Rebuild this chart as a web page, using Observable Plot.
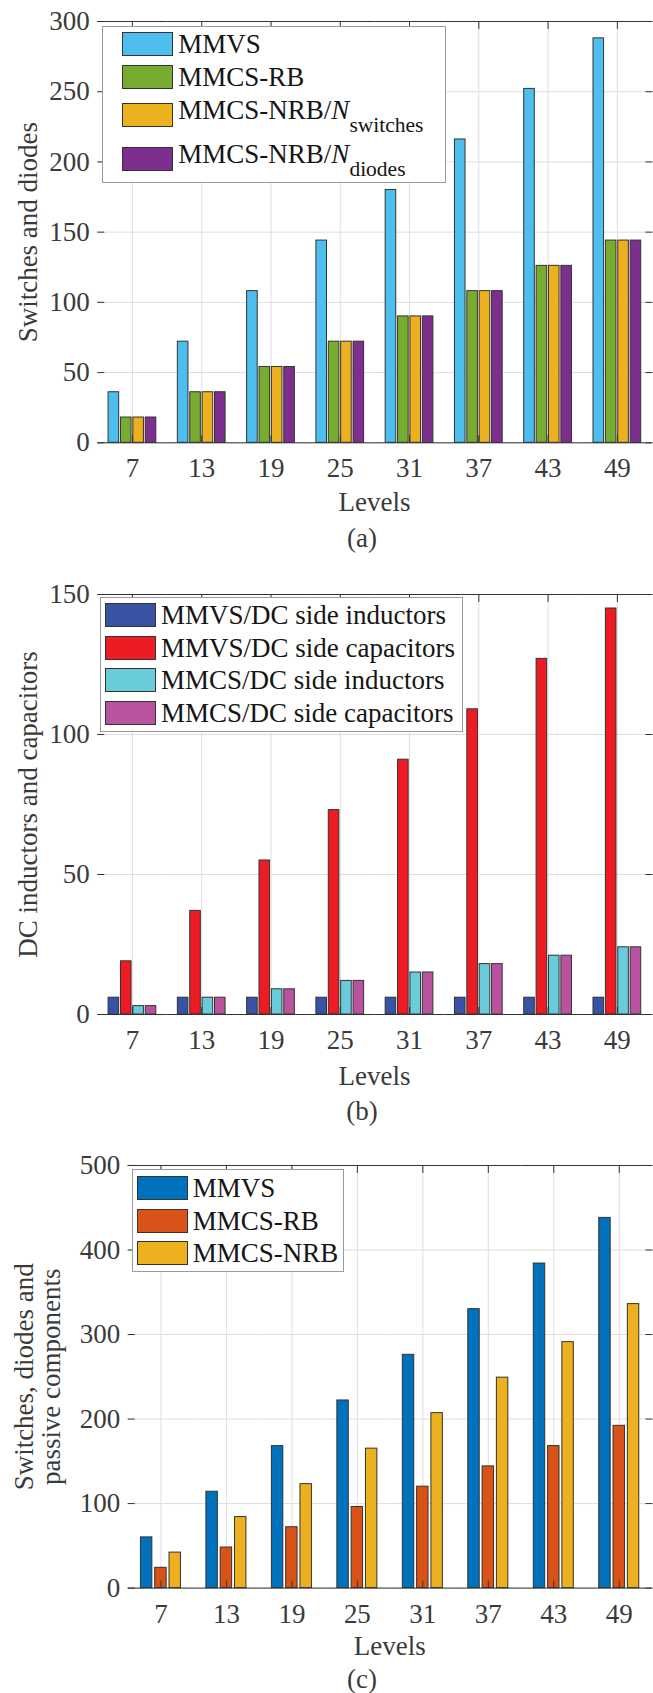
<!DOCTYPE html>
<html>
<head>
<meta charset="utf-8">
<script src="https://cdn.jsdelivr.net/npm/d3@7"></script>
<script src="https://cdn.jsdelivr.net/npm/@observablehq/plot@0.6"></script>
<style>
html, body { margin: 0; padding: 0; background: #fff; }
#page { position: relative; width: 653px; height: 1693px; overflow: hidden;
  font-family: "Liberation Serif", "Times New Roman", serif; color: #333; }
.chart { position: absolute; left: 0; }
.ctext { position: absolute; transform: translate(-50%, -50%); font-size: 27px; line-height: 1; white-space: nowrap; color: #3a3a3a; }
.legend { position: absolute; background: #fff; border: 1.5px solid #9a9a9a; box-sizing: border-box; }
.sw { position: absolute; width: 51px; height: 24px; box-sizing: border-box; border: 1px solid #333; }
.lt { position: absolute; font-size: 27px; line-height: 1; color: #151515; white-space: nowrap; transform: translateY(-50%); }
.lt sub { font-size: 21.5px; vertical-align: baseline; position: relative; top: 13px; line-height: 1; }
</style>
</head>
<body>
<div id="page"></div>
<script>
// ---------------- data ----------------
const levels = [7, 13, 19, 25, 31, 37, 43, 49];

// (a) switches and diodes
const aSeries = ["MMVS", "MMCS-RB", "MMCS-NRB/Nswitches", "MMCS-NRB/Ndiodes"];
const aLegendHtml = ["MMVS", "MMCS-RB", "MMCS-NRB/<i>N</i><sub>switches</sub>", "MMCS-NRB/<i>N</i><sub>diodes</sub>"];
const aMMVS = [36, 72, 108, 144, 180, 216, 252, 288];
const aMMCS_RB = [18, 36, 54, 72, 90, 108, 126, 144];
const aNRB_switches = [18, 36, 54, 72, 90, 108, 126, 144];
const aNRB_diodes = [18, 36, 54, 72, 90, 108, 126, 144];
const aColors = ["#4DBEEE", "#77AC30", "#EDB120", "#7E2F8E"];
const aTicks = [0, 50, 100, 150, 200, 250, 300];

// (b) DC inductors and capacitors
const bSeries = ["MMVS/DC side inductors", "MMVS/DC side capacitors", "MMCS/DC side inductors", "MMCS/DC side capacitors"];
const bMMVS_L = [6, 6, 6, 6, 6, 6, 6, 6];
const bMMVS_C = [19, 37, 55, 73, 91, 109, 127, 145];
const bMMCS_L = [3, 6, 9, 12, 15, 18, 21, 24];
const bMMCS_C = [3, 6, 9, 12, 15, 18, 21, 24];
const bColors = ["#3953A4", "#ED1C24", "#6ACCDB", "#B9529F"];
const bTicks = [0, 50, 100, 150];

// (c) switches, diodes and passive components
const cSeries = ["MMVS", "MMCS-RB", "MMCS-NRB"];
const cMMVS = [60, 114, 168, 222, 276, 330, 384, 438];
const cMMCS_RB = [24, 48, 72, 96, 120, 144, 168, 192];
const cMMCS_NRB = [42, 84, 123, 165, 207, 249, 291, 336];
const cColors = ["#0072BD", "#D95319", "#EDB120"];
const cTicks = [0, 100, 200, 300, 400, 500];

// ---------------- drawing ----------------
const page = document.getElementById("page");

function makeChart(cfg) {
  const rows = [];
  levels.forEach((lv, i) => cfg.series.forEach((s, j) => rows.push({level: lv, series: s, value: cfg.values[j][i]})));
  const mt = 15, mb = 50;
  const ymax = cfg.ticks[cfg.ticks.length - 1];
  const svg = Plot.plot({
    width: 653,
    height: mt + cfg.innerHeight + mb,
    marginTop: mt, marginBottom: mb, marginLeft: cfg.marginLeft, marginRight: 1.5,
    style: {fontFamily: '"Liberation Serif", "Times New Roman", serif', fontSize: "27px", color: "#333", background: "transparent", overflow: "visible"},
    fx: {domain: levels, padding: 0, round: false, label: null},
    x: {domain: cfg.series, paddingInner: cfg.pi, paddingOuter: cfg.po, round: false, axis: null},
    y: {domain: [0, ymax], label: null},
    color: {domain: cfg.series, range: cfg.colors},
    marks: [
      Plot.gridY({ticks: cfg.ticks, stroke: "#dedede", strokeOpacity: 1}),
      Plot.gridFx({stroke: "#dedede", strokeOpacity: 1}),
      Plot.barY(rows, {fx: "level", x: "series", y: "value", fill: "series", stroke: "#333", strokeWidth: 1}),
      Plot.ruleY([0, ymax], {stroke: "#333"}),
      Plot.axisY({ticks: cfg.ticks, anchor: "left", tickSize: -7, tickPadding: 15, line: true,
        label: cfg.ylabel, labelAnchor: "center", labelArrow: "none", labelOffset: cfg.labelOffset, fill: "#3a3a3a"}),
      Plot.axisY({ticks: cfg.ticks, anchor: "right", tickSize: -7, tickFormat: () => "", line: true, label: null}),
      Plot.axisFx({anchor: "bottom", tickSize: -7, tickPadding: 22.3, label: null, fill: "#3a3a3a"}),
      Plot.axisFx({anchor: "top", tickSize: -7, tickFormat: () => "", label: null})
    ]
  });
  const wrap = document.createElement("div");
  wrap.className = "chart";
  wrap.style.top = (cfg.plotTop - mt) + "px";
  wrap.appendChild(svg);
  page.appendChild(wrap);
}

function addText(cls, html, x, y) {
  const d = document.createElement("div");
  d.className = cls;
  d.innerHTML = html;
  d.style.left = x + "px";
  d.style.top = y + "px";
  page.appendChild(d);
}

function addLegend(box, swLeft, textLeft, rowTops, textShift, labels, colors) {
  const lg = document.createElement("div");
  lg.className = "legend";
  Object.assign(lg.style, {left: box[0] + "px", top: box[1] + "px", width: box[2] + "px", height: box[3] + "px"});
  page.appendChild(lg);
  labels.forEach((lab, i) => {
    const sw = document.createElement("div");
    sw.className = "sw";
    sw.style.left = swLeft + "px";
    sw.style.top = rowTops[i] + "px";
    sw.style.background = colors[i];
    page.appendChild(sw);
    const t = document.createElement("div");
    t.className = "lt";
    t.innerHTML = lab;
    t.style.left = textLeft + "px";
    t.style.top = (rowTops[i] + 12 + textShift[i]) + "px";
    page.appendChild(t);
  });
}

// (a)
makeChart({series: aSeries, values: [aMMVS, aMMCS_RB, aNRB_switches, aNRB_diodes], colors: aColors, ticks: aTicks,
  marginLeft: 97.3, plotTop: 21, innerHeight: 421.3, pi: 0.145, po: 0.87,
  ylabel: "Switches and diodes", labelOffset: 80});
addLegend([102.3, 25.7, 344.2, 157], 122.3, 178.3, [32.3, 65, 103.3, 146.7], [0, 0, -5, -5], aLegendHtml, aColors);
addText("ctext", "Levels", 374.5, 502.4);
addText("ctext", "(a)", 362, 537.7);

// (b)
makeChart({series: bSeries, values: [bMMVS_L, bMMVS_C, bMMCS_L, bMMCS_C], colors: bColors, ticks: bTicks,
  marginLeft: 97.3, plotTop: 594, innerHeight: 420, pi: 0.145, po: 0.87,
  ylabel: "DC inductors and capacitors", labelOffset: 80});
addLegend([100, 596.7, 362.5, 135], 105.3, 161, [603.3, 636, 668.3, 701], [0, 0, 0, 0], bSeries, bColors);
addText("ctext", "Levels", 374.5, 1075.8);
addText("ctext", "(b)", 362, 1111);

// (c)
makeChart({series: cSeries, values: [cMMVS, cMMCS_RB, cMMCS_NRB], colors: cColors, ticks: cTicks,
  marginLeft: 127.7, plotTop: 1164.7, innerHeight: 422.6, pi: 0.2, po: 0.89,
  ylabel: "Switches, diodes and\npassive components", labelOffset: 114});
addLegend([132, 1168.7, 212, 103.3], 137.3, 192.7, [1176, 1208.7, 1241.3], [0, 0, 0], cSeries, cColors);
addText("ctext", "Levels", 389.7, 1646.3);
addText("ctext", "(c)", 362, 1678.5);
</script>
</body>
</html>
